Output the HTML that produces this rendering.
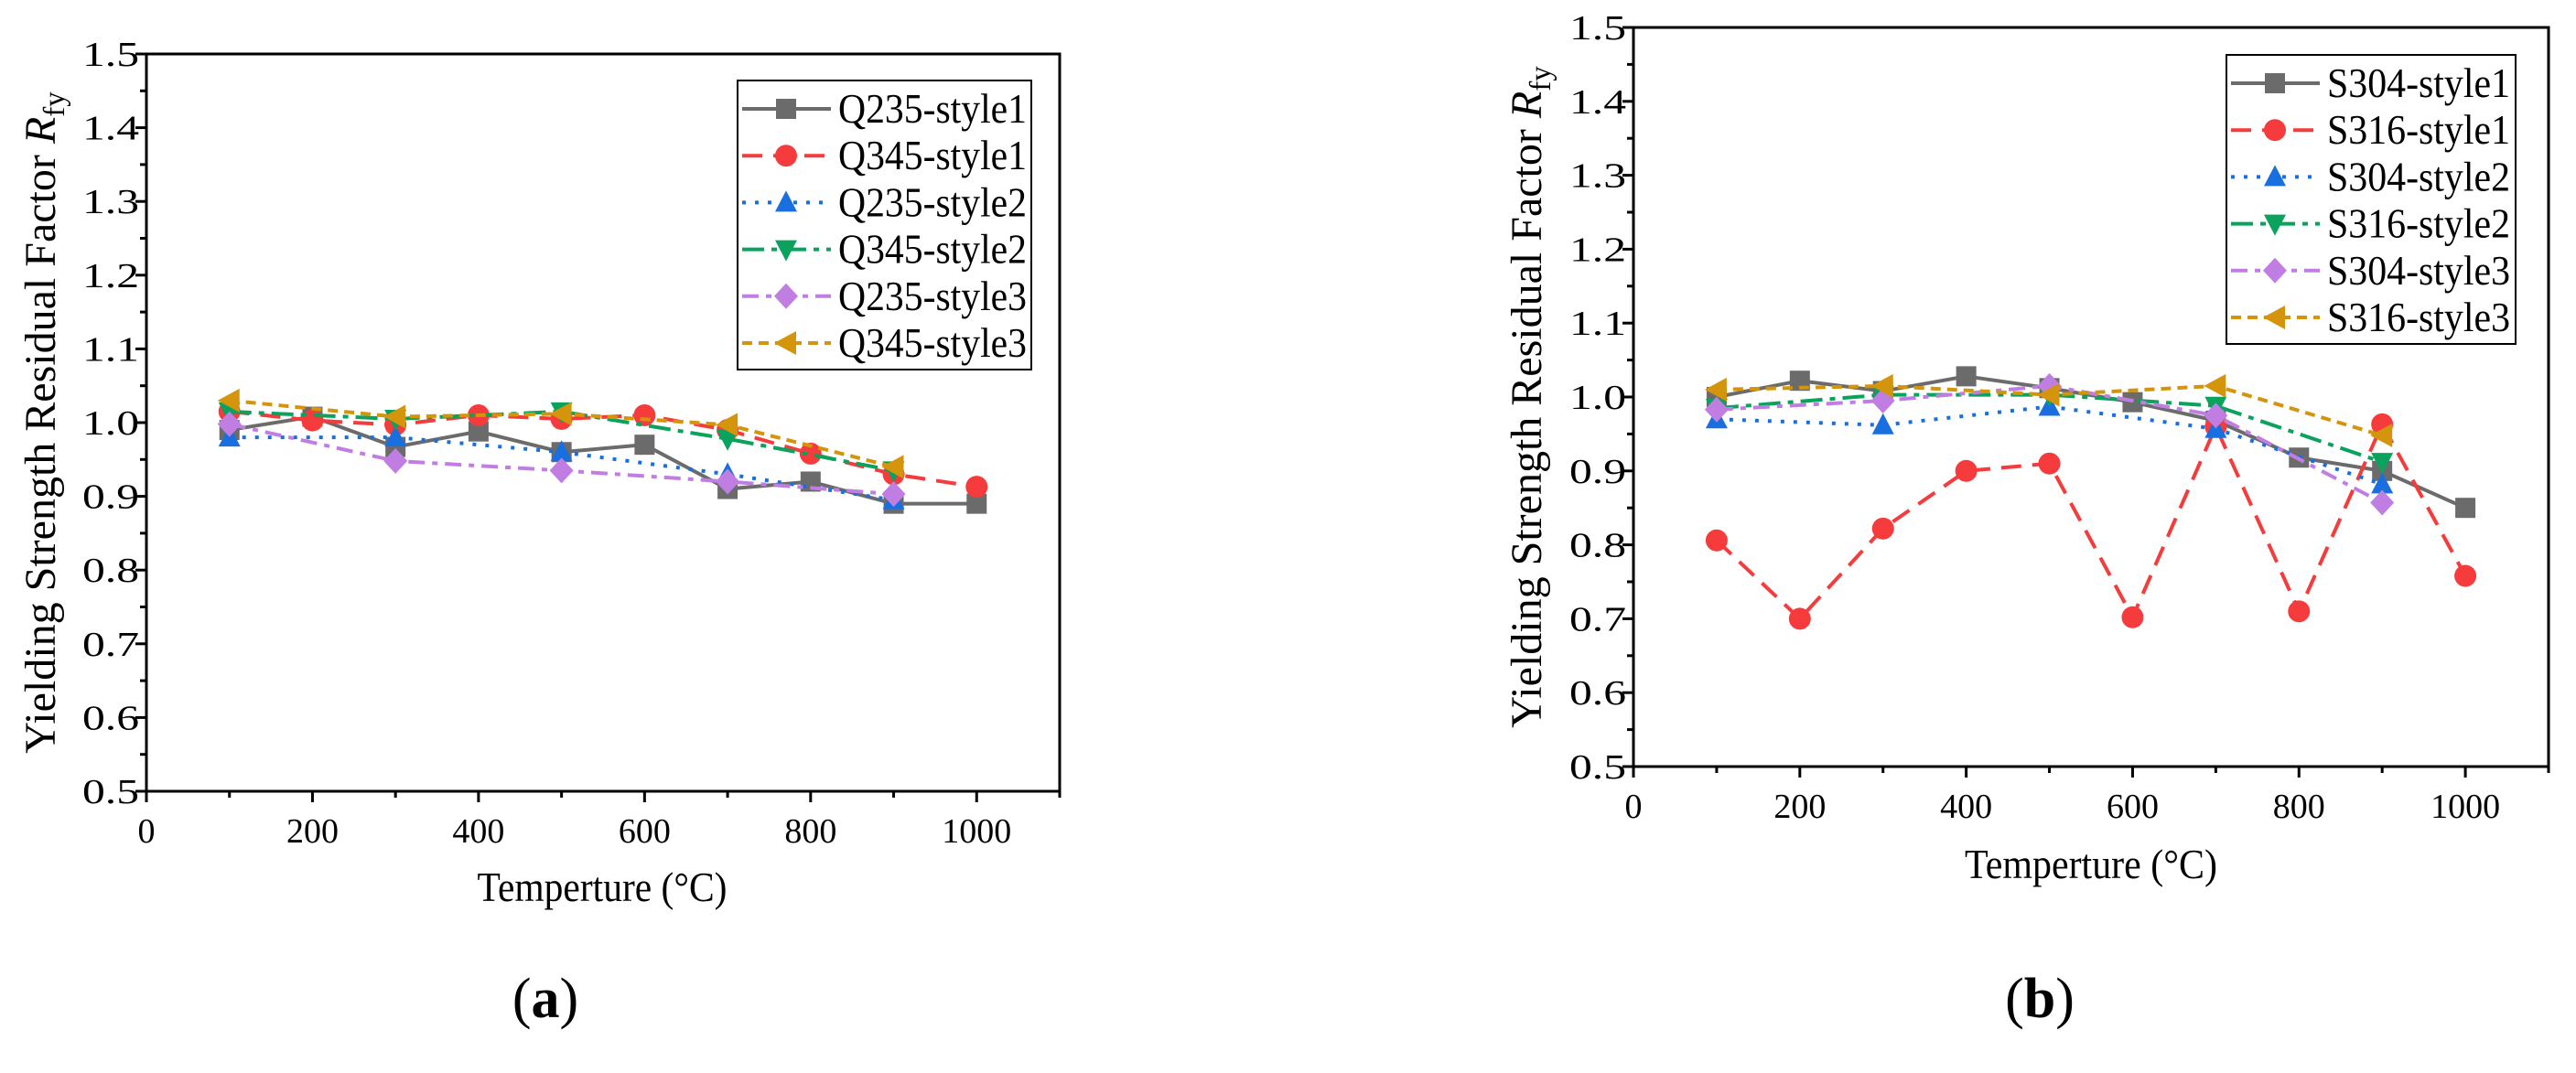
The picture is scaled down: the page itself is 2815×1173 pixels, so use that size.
<!DOCTYPE html>
<html><head><meta charset="utf-8"><style>
html,body{margin:0;padding:0;background:#fff}
svg{display:block}
text{font-family:"Liberation Serif",serif;fill:#000}
</style></head><body>
<svg id="chart" width="2815" height="1173" viewBox="0 0 2815 1173" xmlns="http://www.w3.org/2000/svg"></svg>
<script>
const temps = [100,200,300,400,500,600,700,800,900,1000];
const temps5 = [100,300,500,700,900];
const xTicks = [0,200,400,600,800,1000];
const yTicks = [0.5,0.6,0.7,0.8,0.9,1.0,1.1,1.2,1.3,1.4,1.5];
// panel a
const q235s1 = [0.99,1.008,0.967,0.988,0.96,0.97,0.91,0.92,0.89,0.89];
const q345s1 = [1.015,1.003,0.997,1.01,1.005,1.01,0.99,0.958,0.93,0.913];
const q235s2 = [0.98,0.98,0.96,0.93,0.895];
const q345s2 = [1.015,1.005,1.015,0.978,0.935];
const q235s3 = [0.998,0.948,0.935,0.92,0.903];
const q345s3 = [1.03,1.008,1.012,0.997,0.94];
// panel b
const s304s1 = [1.0,1.022,1.008,1.028,1.012,0.993,0.968,0.918,0.9,0.85];
const s316s1 = [0.806,0.70,0.822,0.9,0.91,0.702,0.96,0.71,0.963,0.758];
const s304s2 = [0.97,0.962,0.987,0.957,0.882];
const s316s2 = [0.985,1.003,1.003,0.988,0.912];
const s304s3 = [0.983,0.995,1.015,0.975,0.857];
const s316s3 = [1.01,1.015,1.003,1.015,0.948];

const NS="http://www.w3.org/2000/svg";
const svg=document.getElementById('chart');
function mk(tag,attrs,parent){const e=document.createElementNS(NS,tag);for(const k in attrs)e.setAttribute(k,attrs[k]);(parent||svg).appendChild(e);return e;}

const styles=[
 {c:'#6b6b6b',dash:'',m:'square'},
 {c:'#f53b3b',dash:'22,12',m:'circle'},
 {c:'#1a6fe0',dash:'4,10',m:'tri'},
 {c:'#0aa25c',dash:'24,8,6,8',m:'tridown'},
 {c:'#c07ee2',dash:'18,8,6,8',m:'diamond'},
 {c:'#d4950c',dash:'11,7',m:'left'}
];
function marker(g,m,x,y,c){
  const s=11;
  let e;
  if(m==='square') e=mk('rect',{x:x-s,y:y-s,width:2*s,height:2*s,fill:c},g);
  else if(m==='circle') e=mk('circle',{cx:x,cy:y,r:s+1,fill:c},g);
  else if(m==='tri') e=mk('polygon',{points:`${x},${y-s-2} ${x+s+1},${y+s-1} ${x-s-1},${y+s-1}`,fill:c},g);
  else if(m==='tridown') e=mk('polygon',{points:`${x},${y+s+2} ${x+s+1},${y-s+1} ${x-s-1},${y-s+1}`,fill:c},g);
  else if(m==='diamond') e=mk('polygon',{points:`${x},${y-s-3} ${x+s+2},${y} ${x},${y+s+3} ${x-s-2},${y}`,fill:c},g);
  else e=mk('polygon',{points:`${x-s-2},${y} ${x+s},${y-s-2} ${x+s},${y+s+2}`,fill:c},g);
  
  
}

function panel(P){
  const g=mk('g',{});
  
  
  const X=v=>P.l+(v/1100)*(P.r-P.l);
  const Y=v=>P.b-(v-0.5)/1.0*(P.b-P.t);
  P.series.forEach((s,i)=>{
    const st=styles[i];
    const xs=s.x, ys=s.y;
    const sg=mk('g',{},g);
    
    
    const pts=xs.map((x,j)=>X(x)+','+Y(ys[j])).join(' ');
    const pl=mk('polyline',{points:pts,fill:'none',stroke:st.c,'stroke-width':4,'stroke-dasharray':st.dash},sg);
    
    
    xs.forEach((x,j)=>marker(sg,st.m,X(x),Y(ys[j]),st.c));
  });
  const fr=mk('rect',{x:P.l,y:P.t,width:P.r-P.l,height:P.b-P.t,fill:'none',stroke:'#000','stroke-width':3},g);
  
  
  for(let v=0.5;v<=1.5001;v+=0.05){
    const major=Math.abs(Math.round(v*10)-v*10)<1e-6;
    mk('line',{x1:P.l-(major?12:7),x2:P.l,y1:Y(v),y2:Y(v),stroke:'#000','stroke-width':3},g);
  }
  yTicks.forEach(v=>{
    const t=mk('text',{x:P.l-8,y:Y(v)+13,'text-anchor':'end','font-size':38,textLength:62,lengthAdjust:'spacingAndGlyphs'},g);
    t.textContent=v.toFixed(1);
    
    
  });
  for(let v=0;v<=1100;v+=100){
    const major=v%200===0;
    mk('line',{x1:X(v),x2:X(v),y1:P.b,y2:P.b+(major?12:7),stroke:'#000','stroke-width':3},g);
  }
  xTicks.forEach(v=>{
    const t=mk('text',{x:X(v),y:P.b+56,'text-anchor':'middle','font-size':38},g);
    t.textContent=String(v);
    
    
  });
  const xt=mk('text',{x:P.xtx,y:P.xty,'text-anchor':'middle','font-size':46,textLength:P.xtw,lengthAdjust:'spacingAndGlyphs'},g);
  xt.textContent='Temperture (°C)';
  
  
  const yt=mk('text',{x:0,y:0,'text-anchor':'middle','font-size':48,transform:`translate(${P.ytx},${(P.t+P.b)/2}) rotate(-90)`},g);
  yt.innerHTML='Yielding Strength Residual Factor <tspan font-style="italic">R</tspan><tspan font-size="33" dy="10">fy</tspan>';
  
  
  const lg=mk('g',{},g);
  
  
  mk('rect',{x:P.lgx,y:P.lgy,width:P.lgw,height:P.lgh,fill:'#fff',stroke:'#000','stroke-width':2},lg);
  P.series.forEach((s,i)=>{
    const st=styles[i];
    const cy=P.lgy+31+i*51.2;
    const eg=mk('g',{},lg);
    
    
    mk('line',{x1:P.lgx+5,x2:P.lgx+102,y1:cy,y2:cy,stroke:st.c,'stroke-width':4,'stroke-dasharray':st.dash},eg);
    marker(eg,st.m,P.lgx+53,cy,st.c);
    const t=mk('text',{x:P.lgx+110,y:cy+15,'font-size':46,textLength:P.lgtw,lengthAdjust:'spacingAndGlyphs'},eg);
    t.textContent=s.label;
  });
  const pl=mk('text',{x:P.plx,y:1112,'text-anchor':'middle','font-size':62,'font-family':'Liberation Sans, sans-serif'},g);
  pl.innerHTML='(<tspan font-weight="bold">'+P.letter+'</tspan>)';
  
  
}

panel({name:'panel-a',letter:'a',l:160,r:1158,t:59,b:865,xtx:658,xty:985,xtw:273,ytx:60,
  lgx:806,lgy:88,lgw:321,lgh:316,lgtw:206,plx:596,
  series:[
   {label:'Q235-style1',x:temps,y:q235s1},
   {label:'Q345-style1',x:temps,y:q345s1},
   {label:'Q235-style2',x:temps5,y:q235s2},
   {label:'Q345-style2',x:temps5,y:q345s2},
   {label:'Q235-style3',x:temps5,y:q235s3},
   {label:'Q345-style3',x:temps5,y:q345s3}]});
panel({name:'panel-b',letter:'b',l:1785,r:2785,t:30,b:838,xtx:2285,xty:960,xtw:276,ytx:1684,
  lgx:2433,lgy:60,lgw:316,lgh:316,lgtw:200,plx:2229,
  series:[
   {label:'S304-style1',x:temps,y:s304s1},
   {label:'S316-style1',x:temps,y:s316s1},
   {label:'S304-style2',x:temps5,y:s304s2},
   {label:'S316-style2',x:temps5,y:s316s2},
   {label:'S304-style3',x:temps5,y:s304s3},
   {label:'S316-style3',x:temps5,y:s316s3}]});
</script>
</body></html>
